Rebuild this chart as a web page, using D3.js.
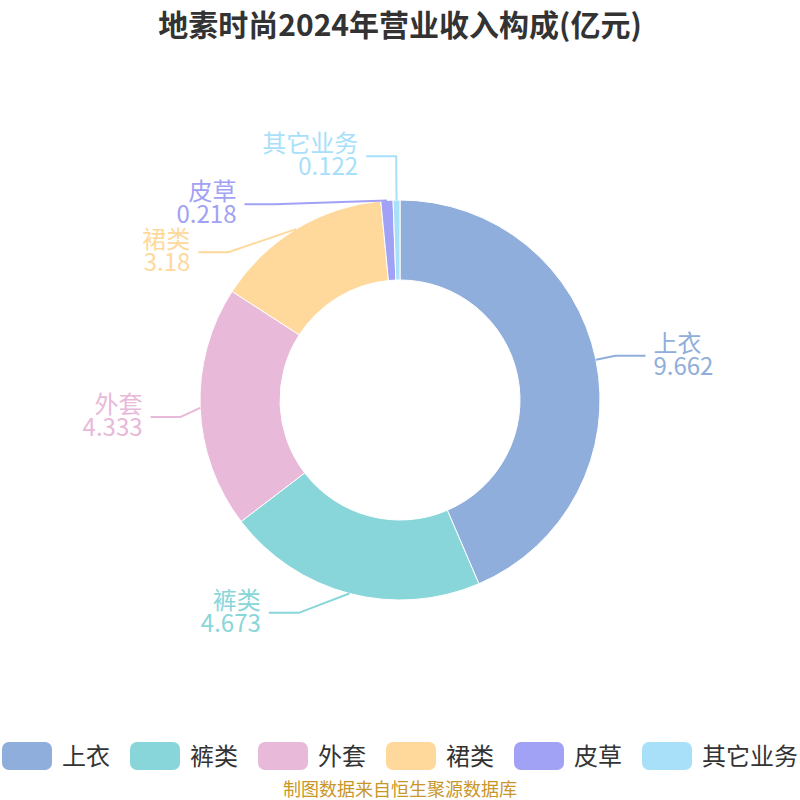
<!DOCTYPE html>
<html>
<head>
<meta charset="utf-8">
<script src="https://cdn.jsdelivr.net/npm/d3@7/dist/d3.min.js"></script>
<style>
  html, body { margin: 0; padding: 0; background: #fff; }
  svg { display: block; font-family: "Noto Sans CJK SC", "Noto Sans", sans-serif; }
</style>
</head>
<body>
<svg id="chart" width="800" height="800"></svg>
<script>
// ---- data ----
const titleText = "地素时尚2024年营业收入构成(亿元)";
const sourceText = "制图数据来自恒生聚源数据库";
const categories = ["上衣", "裤类", "外套", "裙类", "皮草", "其它业务"];
const values = [9.662, 4.673, 4.333, 3.18, 0.218, 0.122];
const colors = ["#8FAEDB", "#88D6D9", "#E8B9D9", "#FED99B", "#A1A1F5", "#A8E0FA"];

// ---- layout constants ----
const W = 800, H = 800;
const cx = 400, cy = 400;
const rOuter = 200, rInner = 120;
const len1 = 20, len2 = 30, textGap = 8;
const labelH = 48;
const labelFont = 24;

const svg = d3.select("#chart");

// title
svg.append("text")
  .attr("x", W / 2).attr("y", 23)
  .attr("text-anchor", "middle").attr("dominant-baseline", "central")
  .attr("font-size", 30).attr("font-weight", "bold").attr("fill", "#333")
  .text(titleText);

const data = categories.map((c, i) => ({ name: c, value: values[i], color: colors[i] }));

const pie = d3.pie().sort(null).value(d => d.value).startAngle(0).endAngle(2 * Math.PI);
const arcs = pie(data);
const arc = d3.arc().innerRadius(rInner).outerRadius(rOuter);

const g = svg.append("g").attr("transform", `translate(${cx},${cy})`);
g.selectAll("path.slice").data(arcs).enter().append("path")
  .attr("class", "slice")
  .attr("d", arc)
  .attr("fill", d => d.data.color)
  .attr("stroke", "#fff").attr("stroke-width", 1);

// ---- label layout (echarts-like) ----
const labels = arcs.map(a => {
  const mid = (a.startAngle + a.endAngle) / 2;
  const sx = Math.sin(mid), sy = -Math.cos(mid);
  const dir = sx < 0 ? -1 : 1;
  const p1 = [cx + rOuter * sx, cy + rOuter * sy];
  const p2 = [cx + (rOuter + len1) * sx, cy + (rOuter + len1) * sy];
  return { d: a.data, dir, p1, p2x: p2[0], y: p2[1], p3x: p2[0] + dir * len2 };
});

function adjustSide(list, dir) {
  list.sort((a, b) => a.y - b.y);
  const n = list.length;
  function shiftUp(end, delta) {
    for (let j = end; j >= 0; j--) {
      if (list[j].y - delta < 0) break;
      list[j].y -= delta;
      if (j > 0 && list[j].y > list[j - 1].y + labelH) break;
    }
  }
  function shiftDown(start, end, delta) {
    for (let j = start; j < end; j++) {
      if (list[j].y + delta > H) break;
      list[j].y += delta;
      if (j > start && j + 1 < end && list[j + 1].y > list[j].y + labelH) {
        shiftUp(j, delta / 2);
        return;
      }
    }
    shiftUp(end - 1, delta / 2);
  }
  let lastY = 0;
  for (let i = 0; i < n; i++) {
    const delta = list[i].y - lastY;
    if (delta < 0) shiftDown(i, n, -delta);
    lastY = list[i].y + labelH;
  }
  const R = rOuter + len1 + len2;
  function changeX(sub, isDown) {
    let last = isDown ? Number.MAX_VALUE : 0;
    sub.forEach(l => {
      const dy = Math.abs(l.y - cy);
      let dx = dy < rOuter + len1 ? Math.sqrt(R * R - dy * dy) : Math.abs(l.p3x - cx);
      if (isDown && dx >= last) dx = last - 10;
      if (!isDown && dx <= last) dx = last + 10;
      l.p3x = cx + dx * dir;
      l.p2x = l.p3x - dir * len2;
      last = dx;
    });
  }
  if (n > 1) {
    changeX(list.filter(l => l.y < cy), false);
    changeX(list.filter(l => l.y >= cy), true);
  }
}
adjustSide(labels.filter(l => l.dir > 0), 1);
adjustSide(labels.filter(l => l.dir < 0), -1);

const lab = svg.append("g");
labels.forEach(l => {
  lab.append("polyline")
    .attr("points", [[l.p1[0], l.p1[1]], [l.p2x, l.y], [l.p3x, l.y]].map(p => p.join(",")).join(" "))
    .attr("fill", "none").attr("stroke", l.d.color).attr("stroke-width", 2);
  const tx = l.p3x + l.dir * textGap;
  const anchor = l.dir > 0 ? "start" : "end";
  const t = lab.append("text")
    .attr("x", tx).attr("y", l.y - 4)
    .attr("text-anchor", anchor)
    .attr("font-size", labelFont).attr("fill", l.d.color);
  t.append("tspan").attr("x", tx).attr("dy", 0).text(l.d.name);
  t.append("tspan").attr("x", tx).attr("dy", 23).text(String(l.d.value));
});

// ---- legend ----
const itemW = 50, itemH = 28, iconGap = 10, itemGap = 20, legendY = 742;
const leg = svg.append("g");
const items = data.map(d => {
  const gi = leg.append("g");
  gi.append("rect").attr("width", itemW).attr("height", itemH).attr("rx", 7).attr("ry", 7)
    .attr("fill", d.color);
  const t = gi.append("text").attr("x", itemW + iconGap).attr("y", itemH / 2 - 2)
    .attr("dominant-baseline", "central").attr("font-size", 24).attr("fill", "#333")
    .text(d.name);
  const tw = t.node().getComputedTextLength();
  return { gi, w: itemW + iconGap + tw };
});
const total = items.reduce((s, it) => s + it.w, 0) + itemGap * (items.length - 1);
let x0 = (W - total) / 2;
items.forEach(it => {
  it.gi.attr("transform", `translate(${x0},${legendY})`);
  x0 += it.w + itemGap;
});

// source
svg.append("text")
  .attr("x", W / 2).attr("y", 788)
  .attr("text-anchor", "middle").attr("dominant-baseline", "central")
  .attr("font-size", 18).attr("fill", "#C9962A")
  .text(sourceText);
</script>
</body>
</html>
